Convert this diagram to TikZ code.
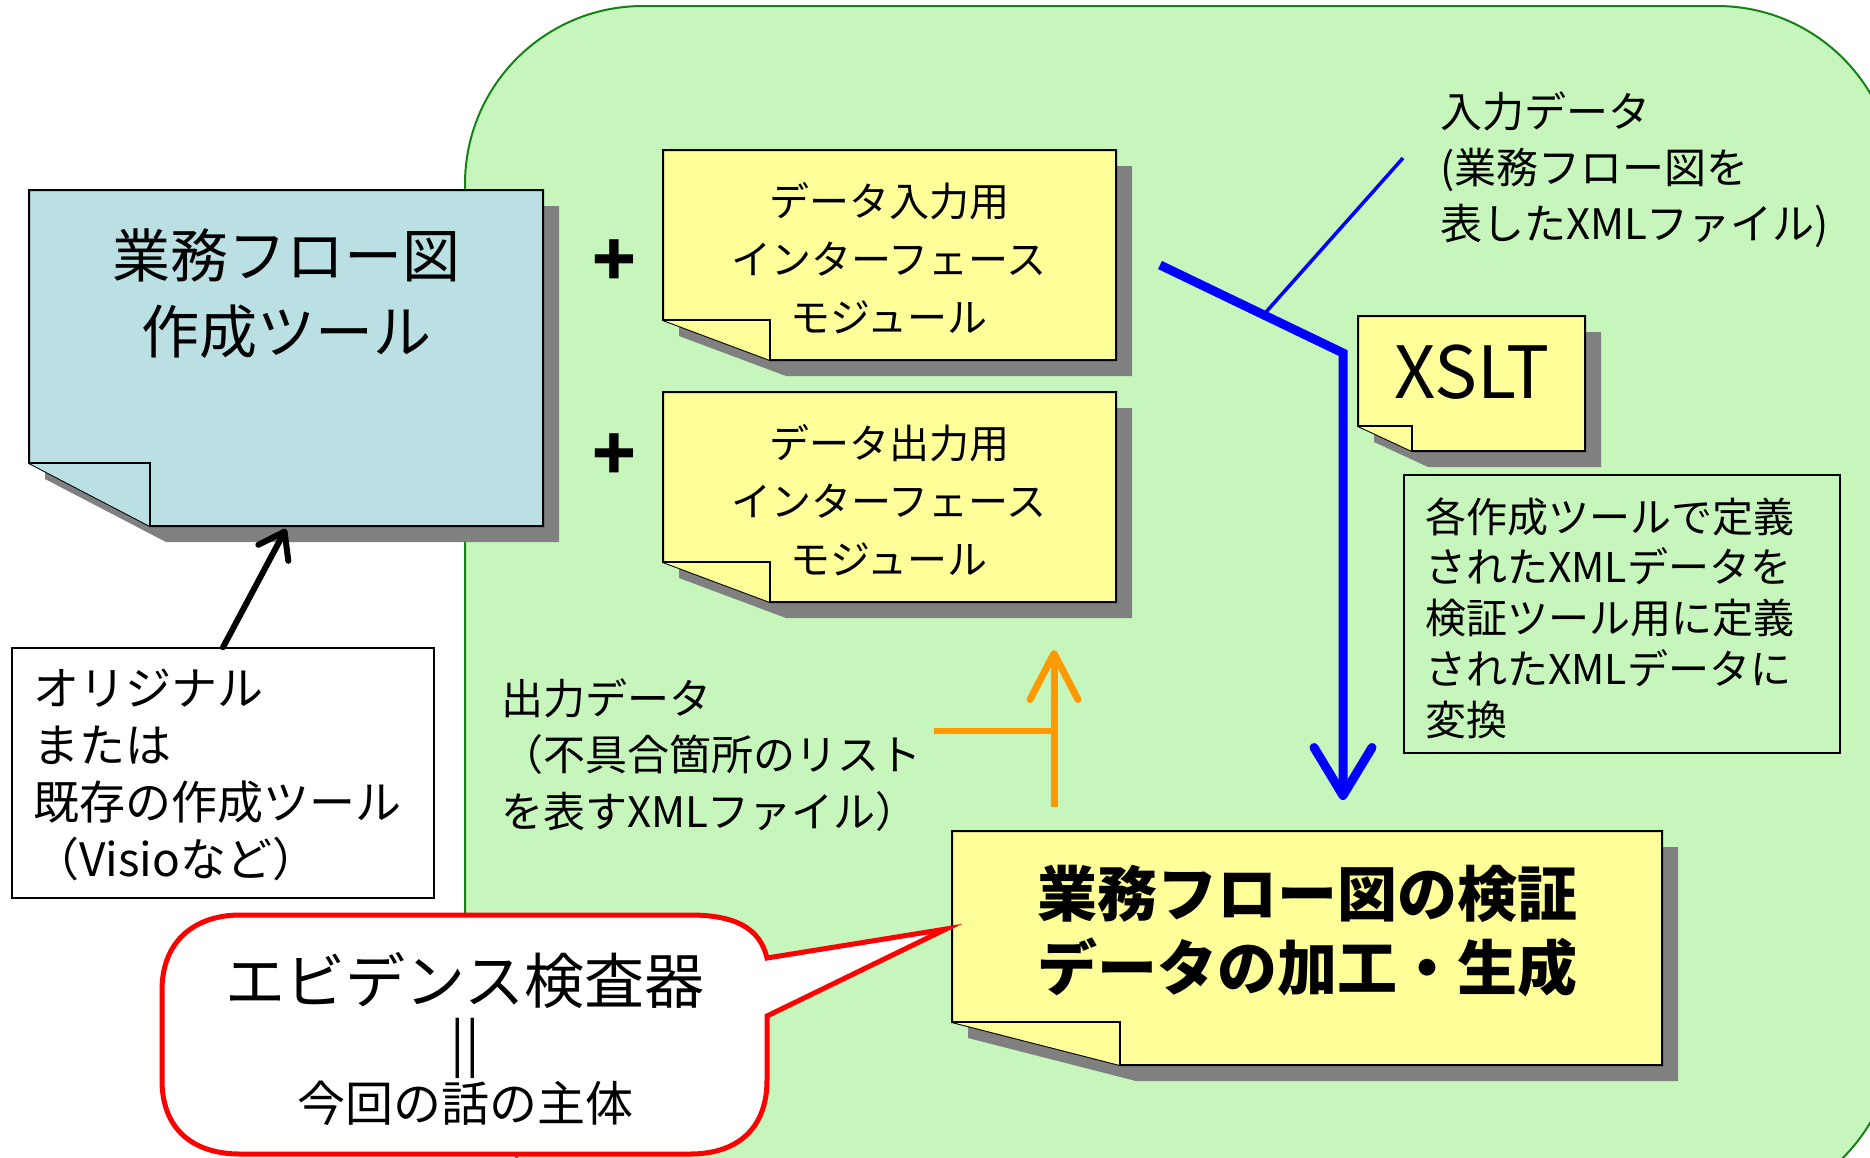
\documentclass[tikz,border=0pt]{standalone}
\usepackage{fontspec}
\setmainfont{Noto Sans CJK JP}
\usetikzlibrary{arrows.meta,calc}
\definecolor{bggreen}{RGB}{198,246,188}
\definecolor{bgborder}{RGB}{20,130,20}
\definecolor{noteyellow}{RGB}{255,255,153}
\definecolor{noteblue}{RGB}{186,224,228}
\definecolor{shadowc}{RGB}{128,128,128}
\definecolor{arrowblue}{RGB}{0,0,255}
\definecolor{arroworange}{RGB}{255,153,0}
\definecolor{calloutred}{RGB}{255,0,0}
\newcommand\notefold[4]{%
  \fill[shadowc] ($(#1.north west)+(16,16)$) -- ($(#1.north east)+(16,16)$) -- ($(#1.south east)+(16,16)$) -- ($(#1.south west)+(16+#2,16)$) -- ($(#1.south west)+(16,16-#3)$) -- cycle;
  \draw[notebd, fill=#4] (#1.north west) -- (#1.north east) -- (#1.south east) -- ($(#1.south west)+(#2,0)$) -- ($(#1.south west)+(0,-#3)$) -- cycle;
  \draw[notebd, fill=#4] ($(#1.south west)+(0,-#3)$) -- ($(#1.south west)+(#2,-#3)$) -- ($(#1.south west)+(#2,0)$);
}
\begin{document}
\begin{tikzpicture}[x=1pt,y=-1pt,
  area/.style={draw=none, inner sep=0pt, outer sep=0pt},
  notebd/.style={draw=black, line width=2pt, line join=miter},
  txt/.style={inner sep=0pt, outer sep=0pt, align=center},
  ltxt/.style={inner sep=0pt, outer sep=0pt, align=left, anchor=west},
  blkarrow/.style={line width=6pt, line cap=round, -{Straight Barb[length=24pt,width=34pt,round]}},
  bluearrow/.style={draw=arrowblue, line width=9pt, line join=miter, -{Straight Barb[length=48pt,width=58pt,round]}},
  orangearrow/.style={draw=arroworange, line width=7pt, -{Straight Barb[length=46pt,width=48pt,round]}},
]
\useasboundingbox (0,0) rectangle (1870,1157);
\clip (0,0) rectangle (1870,1157);
\fill[white] (0,0) rectangle (1870,1157);

% green area
\draw[bgborder, line width=2pt, fill=bggreen, rounded corners=178pt] (465,6) rectangle (1895,1210);

% node areas
\node[area, minimum width=514pt, minimum height=336pt] (tool) at (286,358) {};
\node[area, minimum width=453pt, minimum height=210pt] (in1) at (889.5,255) {};
\node[area, minimum width=453pt, minimum height=210pt] (out1) at (889.5,497) {};
\node[area, minimum width=227pt, minimum height=135pt] (xslt) at (1471.5,383.5) {};
\node[area, minimum width=710pt, minimum height=234pt] (proc) at (1307,948) {};

% notes
\notefold{tool}{121}{63}{noteblue}
\notefold{in1}{107}{40}{noteyellow}
\notefold{out1}{107}{40}{noteyellow}
\notefold{xslt}{54}{25}{noteyellow}
\notefold{proc}{168}{43}{noteyellow}

% texts in notes
\node[txt, font=\fontsize{58}{76}\selectfont] (tooltxt) at (286,294) {業務フロー図\\作成ツール};
\node[txt, font=\fontsize{40}{58}\selectfont] (in1txt) at (889,258) {データ入力用\\インターフェース\\モジュール};
\node[txt, font=\fontsize{40}{58}\selectfont] (out1txt) at (889,500) {データ出力用\\インターフェース\\モジュール};
\node[txt, font=\fontsize{72}{80}\selectfont] (xslttxt) at (1472,372) {XSLT};
\node[txt, font=\bfseries\fontsize{60}{74}\selectfont] (proctxt) at (1307,931) {業務フロー図の検証\\データの加工・生成};

% plus signs
\node[txt, font=\bfseries\fontsize{72}{72}\selectfont] (plus1) at (614,263) {+};
\node[txt, font=\bfseries\fontsize{72}{72}\selectfont] (plus2) at (614,457) {+};

% original tool box
\node[draw=black, line width=1.5pt, fill=white, minimum width=422pt, minimum height=250pt, inner sep=0pt] (orig) at (223,773) {};
\node[ltxt, font=\fontsize{46}{57}\selectfont] (origtxt) at (33,775) {オリジナル\\または\\既存の作成ツール\\（Visioなど）};
\draw[blkarrow] (orig.north) -- ([yshift=-3pt]tool.south);

% conversion description box
\node[draw=black, line width=1.5pt, minimum width=436pt, minimum height=278pt, inner sep=0pt] (conv) at (1622,614) {};
\node[ltxt, font=\fontsize{41}{50.7}\selectfont] (convtxt) at (1425,618) {各作成ツールで定義\\されたXMLデータを\\検証ツール用に定義\\されたXMLデータに\\変換};

% input label
\node[ltxt, font=\fontsize{42}{56}\selectfont] (inlabel) at (1440,170) {入力データ\\(業務フロー図を\\表したXMLファイル)};

% blue flow
\coordinate (bstart) at (1160,265);
\coordinate (bbend) at (1343,353);
\coordinate (btip) at (1343,800);
\draw[bluearrow] (bstart) -- (bbend) -- (btip);
\coordinate (bmid) at (1266,312);
\coordinate (blab) at (1403,158);
\draw[arrowblue, line width=3.5pt] (bmid) -- (blab);

% output label and orange arrow
\node[ltxt, font=\fontsize{42}{56.5}\selectfont] (outlabel) at (501,755) {出力データ\\（不具合箇所のリスト\\を表すXMLファイル）};
\coordinate (obot) at (1054,807);
\coordinate (otop) at (1054,650);
\coordinate (oleft) at (934,731);
\draw[orangearrow] (obot) -- (otop);
\draw[arroworange, line width=6pt] (oleft) -- (oleft -| obot);

% callout
\coordinate (tip) at (946,929);
\draw[calloutred, line width=5pt, fill=white, line join=miter]
  (162,990) -- (162,1080)
  .. controls (162,1132) and (196,1154) .. (240,1154)
  -- (690,1154)
  .. controls (736,1154) and (767,1130) .. (767,1080)
  -- (767,1016) -- (tip) -- (767,958)
  .. controls (760,928) and (735,915) .. (690,915)
  -- (240,915)
  .. controls (196,915) and (162,940) .. (162,990) -- cycle;
\node[txt, font=\fontsize{60}{60}\selectfont] (callout1) at (465,980) {エビデンス検査器};
\node[txt, font=\fontsize{54}{54}\selectfont] (callout2) at (465,1048) {||};
\node[txt, font=\fontsize{48}{48}\selectfont] (callout3) at (465,1103) {今回の話の主体};
\end{tikzpicture}
\end{document}
